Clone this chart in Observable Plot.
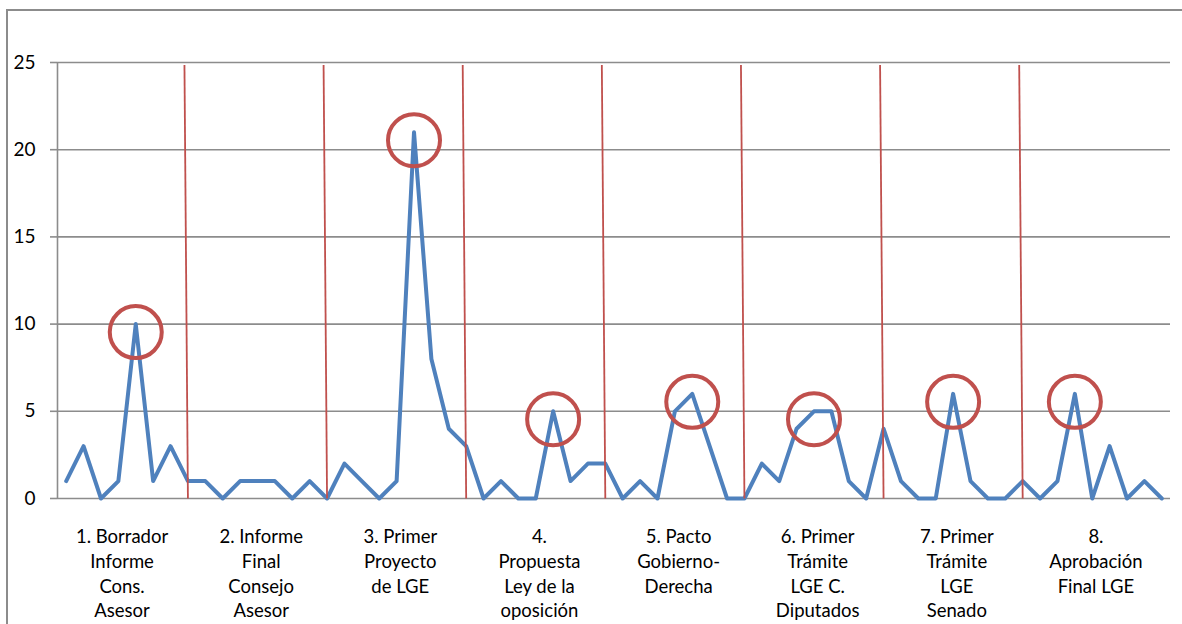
<!DOCTYPE html>
<html>
<head>
<meta charset="utf-8">
<script src="https://cdn.jsdelivr.net/npm/d3@7"></script>
<script src="https://cdn.jsdelivr.net/npm/@observablehq/plot@0.6"></script>
<style>
  html, body { margin: 0; padding: 0; background: #fff; }
  #chart { position: relative; width: 1182px; height: 624px; overflow: hidden; }
  #frame { position: absolute; left: 6px; top: 9px; width: 1200px; height: 700px;
           border-left: 2px solid #8c8c8c; border-top: 2px solid #8c8c8c; }
  #chart svg { position: absolute; left: 0; top: 0; }
</style>
</head>
<body>
<div id="chart"><div id="frame"></div></div>
<script>
// Number of items per period, in chronological order (8 periods x 8 points)
const counts = [
  1, 3, 0, 1, 10, 1, 3, 1,
  1, 0, 1, 1, 1, 0, 1, 0,
  2, 1, 0, 1, 21, 8, 4, 3,
  0, 1, 0, 0, 5, 1, 2, 2,
  0, 1, 0, 5, 6, 3, 0, 0,
  2, 1, 4, 5, 5, 1, 0, 4,
  1, 0, 0, 6, 1, 0, 0, 1,
  0, 1, 6, 0, 3, 0, 1, 0
];

// Legislative milestones, one per block of points
const stages = [
  "1. Borrador\nInforme\nCons.\nAsesor",
  "2. Informe\nFinal\nConsejo\nAsesor",
  "3. Primer\nProyecto\nde LGE",
  "4.\nPropuesta\nLey de la\noposición",
  "5. Pacto\nGobierno-\nDerecha",
  "6. Primer\nTrámite\nLGE C.\nDiputados",
  "7. Primer\nTrámite\nLGE\nSenado",
  "8.\nAprobación\nFinal LGE"
];

// Peaks circled in red (1-based point positions)
const highlights = [5, 21, 29, 37, 44, 52, 59];

// Y axis ticks
const yTicks = [0, 5, 10, 15, 20, 25];

const points = counts.map((v, i) => ({ i: i + 1, v }));
const perStage = counts.length / stages.length;
const dividers = d3.range(1, stages.length).map(k => k * perStage);
const stageRows = stages.map((label, k) => ({ label, x: k * perStage + (perStage + 1) / 2 }));
const xDomain = [0.5, counts.length + 0.5];

const gray = "#8c8c8c";
const blue = "#4f81bd";
const red = "#c0504d";

const chart = Plot.plot({
  width: 1182,
  height: 624,
  marginLeft: 57,
  marginRight: 12,
  marginTop: 62,
  marginBottom: 126,
  style: { fontFamily: "Lato, 'Open Sans', sans-serif", fontSize: "19px", background: "transparent", color: "#000" },
  x: { domain: xDomain, axis: null },
  y: { domain: [0, 25], ticks: yTicks, tickSize: 7, tickPadding: 15, label: null },
  marks: [
    Plot.ruleY(yTicks, { stroke: gray, strokeWidth: 1.6, strokeOpacity: 1 }),
    Plot.ruleX([xDomain[0]], { y1: 0, y2: 25, stroke: gray, strokeWidth: 1.6 }),
    Plot.line(points, { x: "i", y: "v", stroke: blue, strokeWidth: 4, strokeLinejoin: "round" }),
    Plot.link(dividers, { x1: d => d - 0.2, x2: d => d, y1: 24.85, y2: 0, stroke: red, strokeWidth: 1.8 }),
    Plot.dot(highlights, { x: d => d, y: d => counts[d - 1], r: 26, dy: 8, stroke: red, strokeWidth: 4, fill: "none" }),
    Plot.text(stageRows, { x: "x", y: 0, text: "label", dy: 27, dx: -5, lineAnchor: "top", fontSize: 18.5, lineHeight: 1.34, fill: "#000" })
  ]
});

d3.select(chart).selectAll('g[aria-label^="y-axis"] line, g[aria-label="y-axis tick"] path')
  .attr("stroke", gray).attr("stroke-width", 1.6);
d3.select(chart).selectAll('g[aria-label="dot"]').style("filter", "blur(0.6px)");

document.getElementById("chart").appendChild(chart);
</script>
</body>
</html>
